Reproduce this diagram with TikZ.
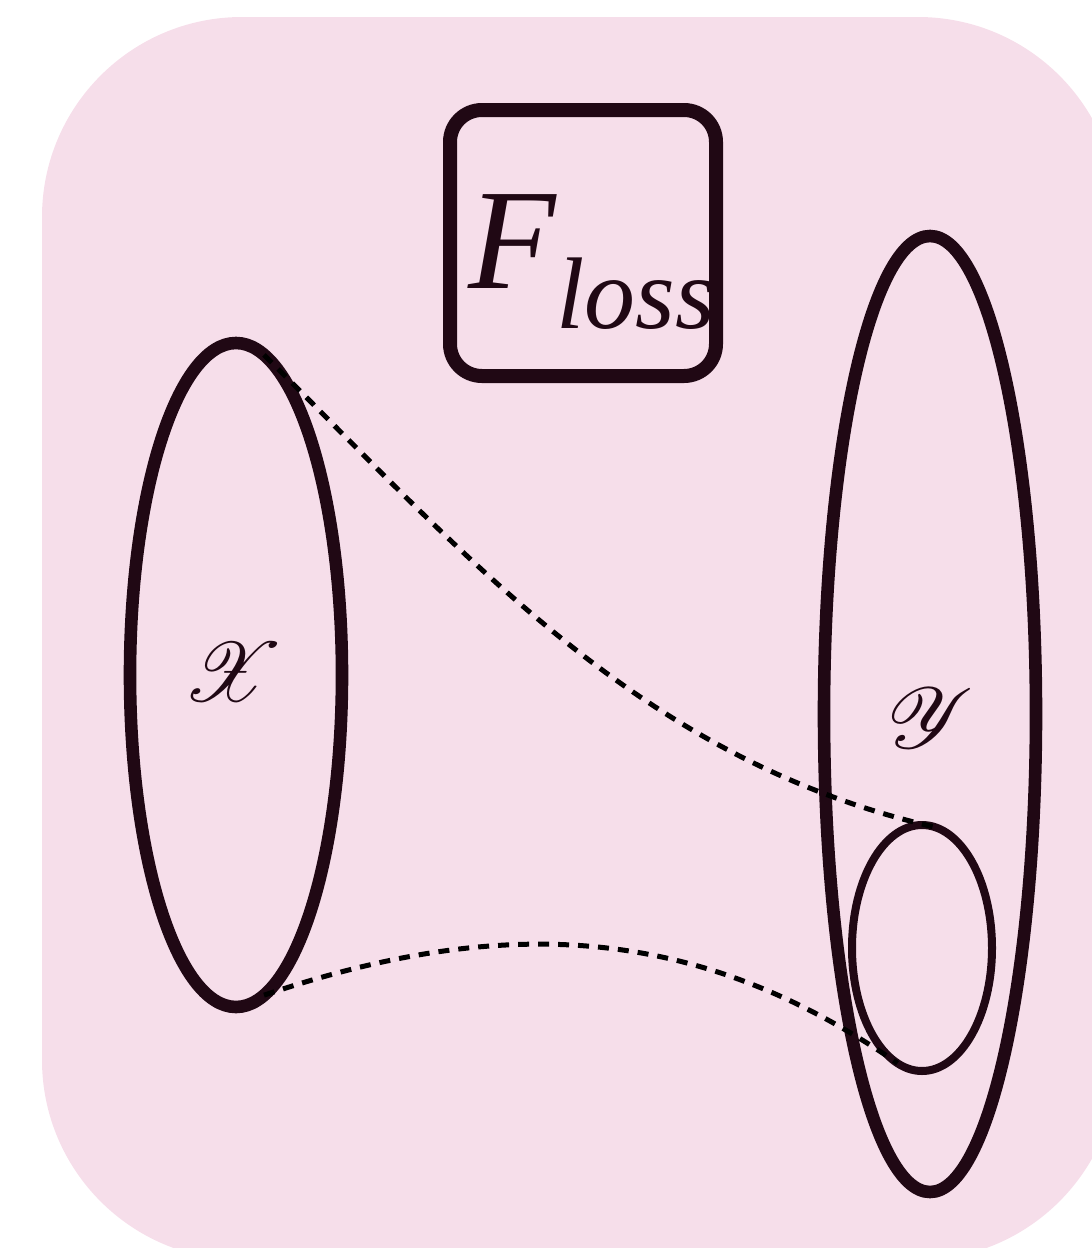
\documentclass[tikz,border=0pt]{standalone}
\usepackage{amsmath, amssymb, mathrsfs}
\usepackage{fontspec}
\usepackage{xcolor}
\usepackage{tikz}
\usetikzlibrary{shapes.geometric, positioning, calc}
\newfontfamily\lossfont{Liberation Serif}
\definecolor{setpink}{RGB}{246, 222, 234}
\definecolor{setink}{RGB}{32, 8, 20}

\begin{document}
\begin{tikzpicture}[x=0.5pt, y=-0.5pt,
  setshape/.style={draw=setink, ellipse, inner sep=0pt, outer sep=0pt, line width=6.3pt},
  mapline/.style={black, line width=2.5pt, dash pattern=on 5.5pt off 4.5pt}]

\useasboundingbox (0,0) rectangle (1092,1248);

% background card
\begin{scope}
\clip (0,0) rectangle (1092,1248);
\fill[setpink, rounded corners=100pt] (42,17) rectangle (1118,1260);
\end{scope}

% loss box
\draw[setink, line width=7pt, rounded corners=16pt] (450,110) rectangle (716,376);
\node[setink, anchor=base west, inner sep=0pt, scale=7.17, font=\lossfont\itshape] (loss) at (466,288)
  {F\raisebox{-2.8pt}{\fontsize{7.1}{8}\selectfont loss}};

% domain X
\node[setshape, minimum width=106pt, minimum height=332pt] (X) at (236,675) {};
\node[setink, scale=4.2] (Xlab) at (233,672) {$\mathscr{X}$};

% codomain Y and the image of X
\node[setshape, minimum width=106pt, minimum height=478pt] (Y) at (930,714) {};
\node[setink, scale=4.3] (Ylab) at (931,718) {$\mathscr{Y}$};
\node[setshape, line width=4pt, minimum width=70pt, minimum height=123pt] (img) at (922,948) {};

% the map
\draw[mapline] (X.85) .. controls (470,560) and (642,760) .. (img.84);
\draw[mapline] (X.-85) .. controls (493,918) and (690,919) .. (img.-102);

\end{tikzpicture}
\end{document}
